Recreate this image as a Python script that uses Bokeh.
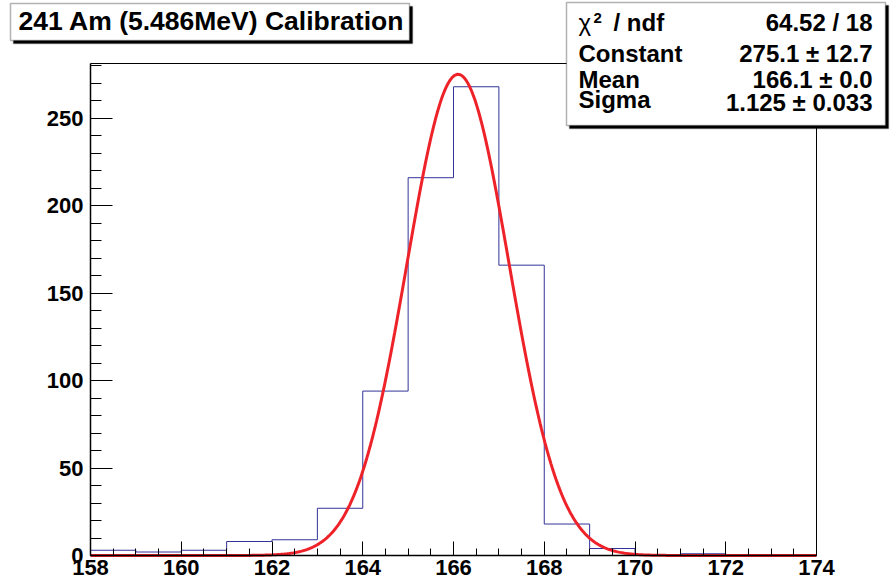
import numpy as np
from bokeh.plotting import figure
from bokeh.models import SingleIntervalTicker, FixedTicker, BoxAnnotation, Label, LinearAxis, Range1d
from bokeh.embed import file_html
from bokeh.resources import INLINE

# ---- data ----
bin_edges = [158, 159, 160, 161, 162, 163, 164, 165, 166, 167, 168, 169, 170, 171, 172, 173, 174]
counts = [3, 2, 3, 8, 9, 27, 94, 216, 268, 166, 18, 4, 0, 1, 0, 0]
fit_constant = 275.1
fit_mean = 166.1
fit_sigma = 1.125
title_text = "241 Am (5.486MeV) Calibration"
stat_names = ["Constant", "Mean", "Sigma"]
stat_values = ["64.52 / 18", "275.1 \u00b1 12.7", "166.1 \u00b1 0.0", "1.125 \u00b1 0.033"]

# ---- layout (canvas pixels) ----
W, H = 890, 588
FR_L, FR_R, FR_T, FR_B = 90, 816, 63, 555
X_LO, X_HI = 158, 174
Y_LO, Y_HI = 0, 281.3
FONT = "Liberation Sans"
BASE_SHIFT = 9  # renderer places alphabetic baseline lower than requested

kx = (FR_R - FR_L) / (X_HI - X_LO)
ky = (FR_B - FR_T) / (Y_HI - Y_LO)
x_range = Range1d(X_LO - FR_L / kx, X_HI + (W - FR_R) / kx)
y_range = Range1d(Y_LO - (H - FR_B) / ky, Y_HI + FR_T / ky)

p = figure(width=W, height=H, min_border=0, x_range=x_range, y_range=y_range,
           output_backend="svg", toolbar_location=None)
p.xgrid.visible = False
p.ygrid.visible = False
p.background_fill_color = "white"
p.border_fill_color = "white"
p.outline_line_color = None

p.xaxis.ticker = SingleIntervalTicker(interval=2, num_minor_ticks=4)
p.yaxis.ticker = SingleIntervalTicker(interval=50, num_minor_ticks=5)
p.xaxis.fixed_location = Y_LO
p.yaxis.fixed_location = X_LO
p.xaxis.bounds = (X_LO, X_HI)
p.yaxis.bounds = (Y_LO, Y_HI)
for ax in (p.xaxis[0], p.yaxis[0]):
    ax.axis_line_color = "black"
    ax.axis_line_width = 1.5
    ax.major_tick_line_color = "black"
    ax.minor_tick_line_color = "black"
    ax.major_tick_out = 0
    ax.minor_tick_out = 0
    ax.major_label_text_font = FONT
    ax.major_label_text_font_style = "bold"
    ax.major_label_text_font_size = "22px"
    ax.major_label_text_color = "black"
p.xaxis.major_tick_in = 14
p.xaxis.minor_tick_in = 7
p.yaxis.major_tick_in = 22
p.yaxis.minor_tick_in = 11
p.xaxis.major_label_standoff = 4
p.yaxis.major_label_standoff = 7

# top and right frame edges
top_ax = LinearAxis(fixed_location=Y_HI, bounds=(X_LO, X_HI), ticker=FixedTicker(ticks=[]),
                    axis_line_color="black", axis_line_width=1)
right_ax = LinearAxis(fixed_location=X_HI, bounds=(Y_LO, Y_HI), ticker=FixedTicker(ticks=[]),
                      axis_line_color="black", axis_line_width=1)
p.add_layout(top_ax, "above")
p.add_layout(right_ax, "right")

# histogram
p.step(x=bin_edges, y=counts + [counts[-1]], mode="after", line_color="#333399", line_width=1)

# fit curve (gaussian with the displayed fit parameters)
xf = np.linspace(bin_edges[0], bin_edges[-1], 600)
yf = fit_constant * np.exp(-0.5 * ((xf - fit_mean) / fit_sigma) ** 2)
p.line(xf, yf, line_color="#ee2229", line_width=3)


def sy(cy):
    return H - cy


def box(l, t, r, b, fill):
    return BoxAnnotation(left=l, right=r, top=sy(t), bottom=sy(b),
                         left_units="screen", right_units="screen",
                         top_units="screen", bottom_units="screen",
                         fill_color=fill, fill_alpha=1, line_color="black", line_width=1.5)


def label(cx, cy, text, size="24px", style="bold", align="left"):
    return Label(x=cx, y=sy(cy - BASE_SHIFT), x_units="screen", y_units="screen",
                 text=text, text_font=FONT, text_font_style=style,
                 text_font_size=size, text_color="black", text_align=align,
                 text_baseline="alphabetic")


# title box with shadow
p.add_layout(box(13, 6, 412, 43, "black"))
p.add_layout(box(10, 3, 409, 40, "white"))
p.add_layout(label(18, 29.5, title_text, size="26.5px"))

# stats box with shadow
p.add_layout(box(569, 5, 888, 128, "black"))
p.add_layout(box(566, 2, 885, 125, "white"))

lab_x = 578
val_x = 872
p.add_layout(label(lab_x, 31, "\u03c7", style="normal"))
p.add_layout(label(lab_x + 15, 26, "2", size="15px"))
p.add_layout(label(lab_x + 35, 31, "/ ndf"))
for name, yb in zip(stat_names, [62, 88, 108]):
    p.add_layout(label(lab_x, yb, name))
for val, yb in zip(stat_values, [31, 62, 88, 111]):
    p.add_layout(label(val_x, yb, val, align="right"))

open("out.html", "w").write(file_html(p, INLINE))
